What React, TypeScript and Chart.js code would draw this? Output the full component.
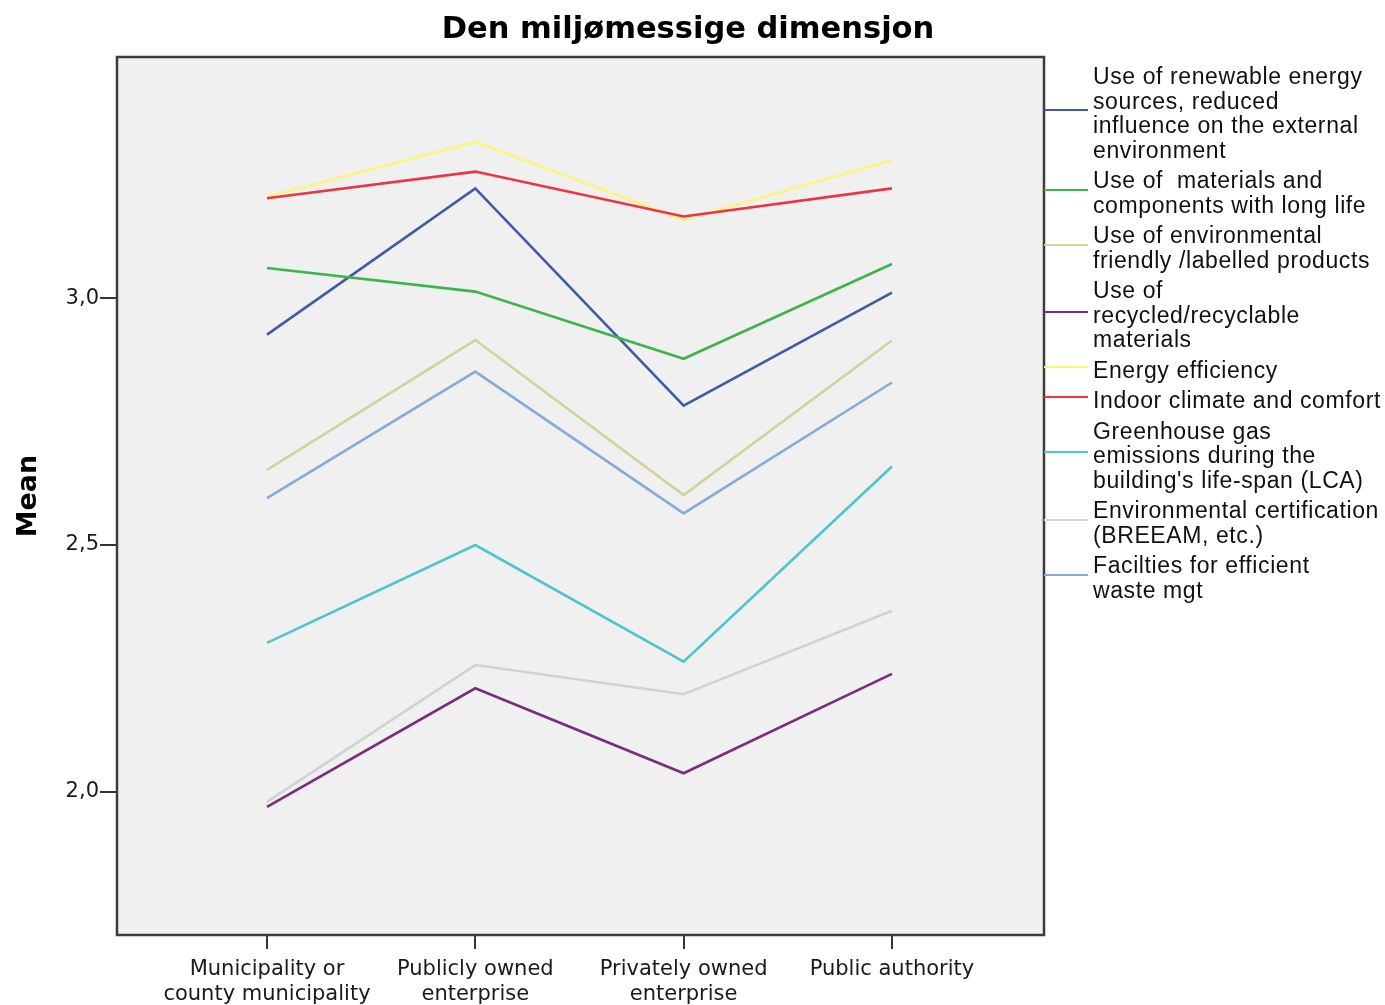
import React, { useEffect, useRef } from "react";
import { Chart, registerables } from "chart.js";

Chart.register(...registerables);

const FONT = "'DejaVu Sans', 'Liberation Sans', Arial, sans-serif";
const LEGEND_FONT = "'Liberation Sans', Arial, sans-serif";

const chartTitle = "Den miljømessige dimensjon";
const yAxisTitle = "Mean";

const categories: string[][] = [
  ["Municipality or", "county municipality"],
  ["Publicly owned", "enterprise"],
  ["Privately owned", "enterprise"],
  ["Public authority"],
];

const seriesNames = [
  "Use of renewable energy\nsources, reduced\ninfluence on the external\nenvironment",
  "Use of  materials and\ncomponents with long life",
  "Use of environmental\nfriendly /labelled products",
  "Use of\nrecycled/recyclable\nmaterials",
  "Energy efficiency",
  "Indoor climate and comfort",
  "Greenhouse gas\nemissions during the\nbuilding's life-span (LCA)",
  "Environmental certification\n(BREEAM, etc.)",
  "Facilties for efficient\nwaste mgt",
];

const renewableEnergy = [2.926, 3.222, 2.782, 3.011];
const longLifeMaterials = [3.061, 3.013, 2.877, 3.069];
const labelledProducts = [2.652, 2.915, 2.601, 2.914];
const recycledMaterials = [1.97, 2.21, 2.038, 2.239];
const energyEfficiency = [3.205, 3.316, 3.158, 3.279];
const indoorClimate = [3.202, 3.256, 3.165, 3.222];
const greenhouseGas = [2.302, 2.5, 2.264, 2.659];
const certification = [1.98, 2.257, 2.198, 2.367];
const wasteFacilities = [2.595, 2.851, 2.564, 2.829];

const seriesValues = [
  renewableEnergy,
  longLifeMaterials,
  labelledProducts,
  recycledMaterials,
  energyEfficiency,
  indoorClimate,
  greenhouseGas,
  certification,
  wasteFacilities,
];

const yTickValues = [2.0, 2.5, 3.0];
const yMin = 1.7105;
const yMax = 3.488;
const xMin = -0.72;
const xMax = 3.73;

const seriesColors = [
  "#4059A9",
  "#3DB54B",
  "#D5D19C",
  "#7B2C7C",
  "#F9F57E",
  "#EE3440",
  "#4CC6C8",
  "#D2D2D2",
  "#86ABDB",
];

const areaPlugin = {
  id: "areaBox",
  beforeDraw(chart: any) {
    const { ctx, chartArea } = chart;
    const { left, top, right, bottom } = chartArea;
    ctx.save();
    ctx.fillStyle = "#F0F0F0";
    ctx.fillRect(left, top, right - left, bottom - top);
    ctx.restore();
  },
  afterDraw(chart: any) {
    const { ctx, chartArea } = chart;
    const { left, top, right, bottom } = chartArea;
    ctx.save();
    ctx.strokeStyle = "#3c3c3c";
    ctx.lineWidth = 2.5;
    ctx.strokeRect(left, top, right - left, bottom - top);
    ctx.restore();
  },
};

export default function App() {
  const canvasRef = useRef<HTMLCanvasElement | null>(null);

  useEffect(() => {
    if (!canvasRef.current) return;
    const datasets = seriesValues.map((vals, si) => ({
      label: seriesNames[si].replace(/\n/g, " "),
      data: vals.map((v, i) => ({ x: i, y: v })),
      borderColor: seriesColors[si],
      backgroundColor: seriesColors[si],
      borderWidth: 2.6,
      pointRadius: 0,
      tension: 0,
      fill: false,
      order: seriesValues.length - si,
    }));

    const chart = new Chart(canvasRef.current, {
      type: "line",
      data: { datasets },
      plugins: [areaPlugin],
      options: {
        animation: false,
        responsive: false,
        maintainAspectRatio: false,
        layout: { padding: { left: 0, right: 341, top: 57, bottom: 0 } },
        plugins: {
          legend: { display: false },
          title: { display: false },
          tooltip: { enabled: false },
        },
        scales: {
          x: {
            type: "linear",
            min: xMin,
            max: xMax,
            afterBuildTicks: (scale: any) => {
              scale.ticks = categories.map((_, i) => ({ value: i }));
            },
            afterFit: (scale: any) => {
              scale.height = 70;
            },
            border: { display: false },
            grid: {
              display: true,
              drawOnChartArea: false,
              drawTicks: true,
              tickLength: 14,
              color: "#333",
              lineWidth: 2,
            },
            ticks: {
              autoSkip: false,
              maxRotation: 0,
              minRotation: 0,
              padding: 8,
              color: "#1a1a1a",
              font: { family: FONT, size: 21, lineHeight: 1.2 },
              callback: (v: any) => categories[Math.round(Number(v))] ?? "",
            },
          },
          y: {
            type: "linear",
            min: yMin,
            max: yMax,
            afterBuildTicks: (scale: any) => {
              scale.ticks = yTickValues.map((v) => ({ value: v }));
            },
            afterFit: (scale: any) => {
              scale.width = 117;
            },
            border: { display: false },
            grid: {
              display: true,
              drawOnChartArea: false,
              drawTicks: true,
              tickLength: 17,
              color: "#333",
              lineWidth: 2,
            },
            ticks: {
              padding: 1,
              color: "#1a1a1a",
              font: { family: FONT, size: 21 },
              callback: (v: any) => Number(v).toFixed(1).replace(".", ","),
            },
            title: {
              display: true,
              text: yAxisTitle,
              color: "#000",
              font: { family: FONT, size: 27, weight: "bold" },
              padding: { top: 13, bottom: 0 },
            },
          },
        },
      },
    } as any);
    return () => chart.destroy();
  }, []);

  return (
    <div style={{ position: "absolute", left: 0, top: 0, width: 1385, height: 1005, background: "#fff", overflow: "hidden" }}>
      <canvas ref={canvasRef} width={1385} height={1005} style={{ position: "absolute", left: 0, top: 0 }} />
      <div
        style={{
          position: "absolute",
          left: 0,
          top: 10,
          width: 1376,
          textAlign: "center",
          fontFamily: FONT,
          fontWeight: "bold",
          fontSize: 30.5,
          lineHeight: "36px",
          color: "#000",
        }}
      >
        {chartTitle}
      </div>
      <div
        style={{
          position: "absolute",
          left: 1044,
          top: 64,
          display: "flex",
          flexDirection: "column",
          gap: 6,
        }}
      >
        {seriesNames.map((name, i) => (
          <div key={i} style={{ display: "flex", alignItems: "center" }}>
            <div style={{ width: 44, height: 2, background: seriesColors[i], marginTop: -6, flex: "none" }} />
            <div
              style={{
                marginLeft: 5,
                fontFamily: LEGEND_FONT,
                fontSize: 23,
                letterSpacing: "0.6px",
                lineHeight: "24.5px",
                whiteSpace: "pre",
                color: "#111",
              }}
            >
              {name}
            </div>
          </div>
        ))}
      </div>
    </div>
  );
}
